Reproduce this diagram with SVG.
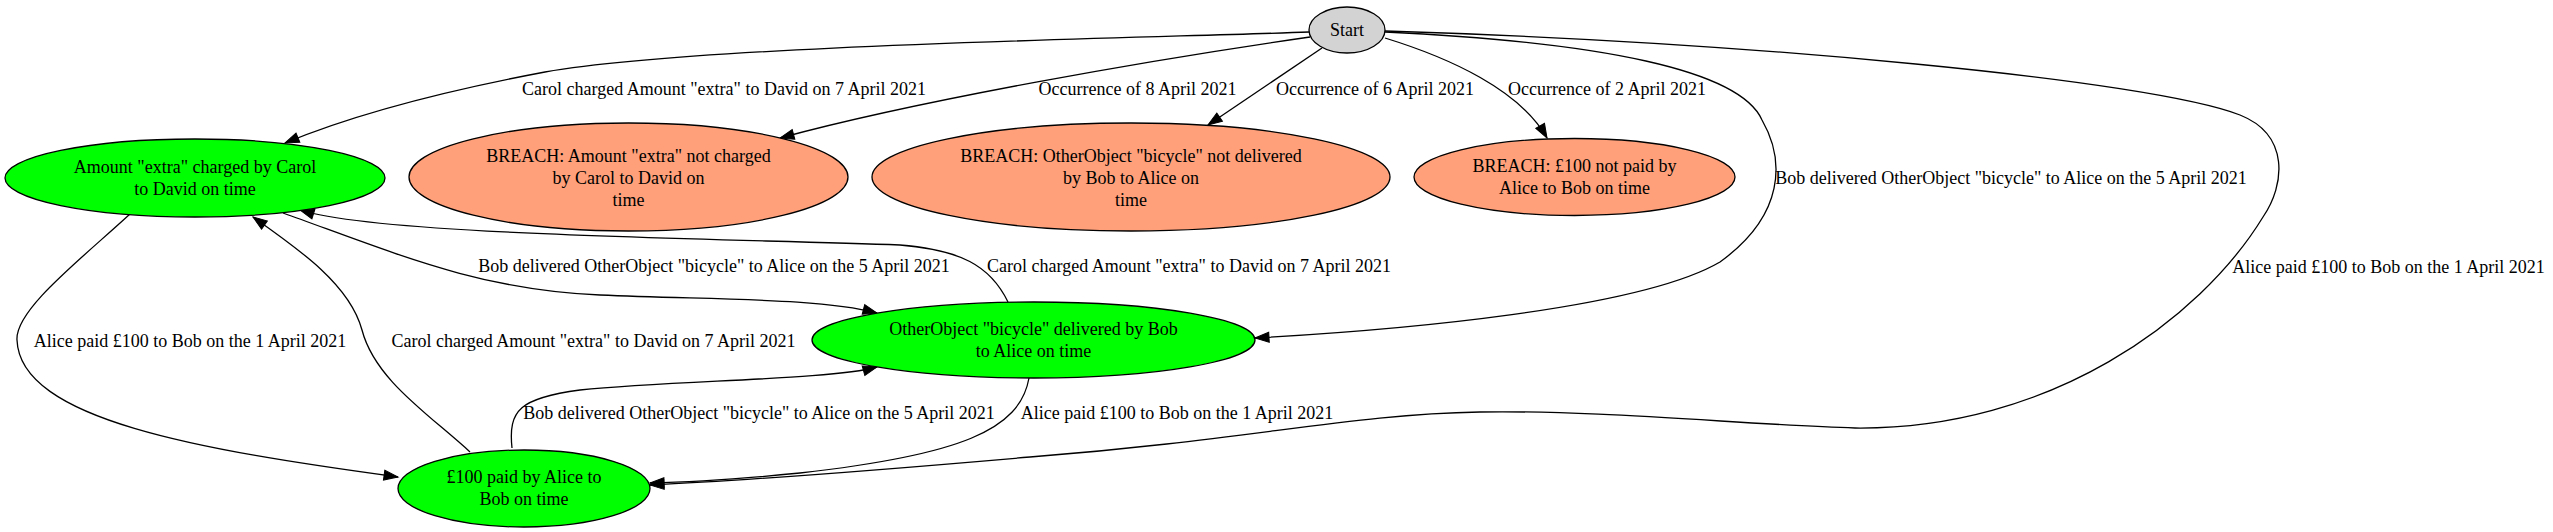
<svg xmlns="http://www.w3.org/2000/svg" width="2553" height="532" viewBox="0 0 2553 532">
<style>
text{font-family:"Liberation Serif","Times New Roman",serif;font-size:18px;fill:#000;text-anchor:middle}
.n{stroke:#000;stroke-width:1.3}
.g{fill:#00ff00}
.b{fill:#ffa07a}
.s{fill:#d3d3d3}
.e path{fill:none;stroke:#000;stroke-width:1.3;marker-end:url(#arr)}
</style>
<defs>
<marker id="arr" markerWidth="15" markerHeight="10" refX="14" refY="5" orient="auto" markerUnits="userSpaceOnUse" overflow="visible">
<path d="M0,0 L14,5 L0,10 z" fill="#000" stroke="#000" stroke-width="1"/>
</marker>
</defs>
<g id="connectors" class="e">
<path d="M1309,32 C1150,38 700,45 545,72 C460,88 360,112 285,143"/>
<path d="M1310,37 C1150,60 920,100 780,138"/>
<path d="M1322,48 L1208,125"/>
<path d="M1385,38 C1450,58 1520,90 1547,138"/>
<path d="M1385,32 C1600,42 1740,70 1762,120 C1785,160 1785,215 1720,262 C1640,309 1400,330 1255,338"/>
<path d="M1385,31 C1750,42 2150,80 2240,115 C2290,135 2285,185 2263,217 C2200,320 2050,430 1855,428 C1750,425 1600,410 1480,412 C1350,414 1250,440 1030,457 C880,470 760,480 650,485"/>
<path d="M130,214 C80,260 15,310 17,340 C20,420 200,450 398,477"/>
<path d="M470,452 C430,415 375,380 362,330 C350,285 300,250 253,217"/>
<path d="M283,213 C400,255 480,290 600,295 C720,300 820,298 877,313"/>
<path d="M1008,302 C990,265 960,250 900,245 C700,238 380,235 300,210"/>
<path d="M512,448 C508,410 520,398 580,390 C680,380 830,380 877,367"/>
<path d="M1029,378 C1020,430 960,455 800,473 C740,479 700,482 650,483"/>
<text x="724" y="95">Carol charged Amount "extra" to David on 7 April 2021</text>
<text x="1137.5" y="95">Occurrence of 8 April 2021</text>
<text x="1375" y="95">Occurrence of 6 April 2021</text>
<text x="1607" y="95">Occurrence of 2 April 2021</text>
<text x="2011" y="184">Bob delivered OtherObject "bicycle" to Alice on the 5 April 2021</text>
<text x="2388.5" y="273">Alice paid £100 to Bob on the 1 April 2021</text>
<text x="714" y="272">Bob delivered OtherObject "bicycle" to Alice on the 5 April 2021</text>
<text x="1189" y="272">Carol charged Amount "extra" to David on 7 April 2021</text>
<text x="190" y="347">Alice paid £100 to Bob on the 1 April 2021</text>
<text x="593.5" y="347">Carol charged Amount "extra" to David on 7 April 2021</text>
<text x="759" y="419">Bob delivered OtherObject "bicycle" to Alice on the 5 April 2021</text>
<text x="1177" y="419">Alice paid £100 to Bob on the 1 April 2021</text>
</g>
<g id="start">
<ellipse class="n s" cx="1347" cy="30" rx="38" ry="23"/>
<text x="1347" y="36">Start</text>
</g>
<g id="amount_charged">
<ellipse class="n g" cx="195" cy="178" rx="190" ry="39"/>
<text x="195" y="173">Amount "extra" charged by Carol</text>
<text x="195" y="195">to David on time</text>
</g>
<g id="breach_amount">
<ellipse class="n b" cx="628.5" cy="177" rx="219.5" ry="54"/>
<text x="628.5" y="162">BREACH: Amount "extra" not charged</text>
<text x="628.5" y="184">by Carol to David on</text>
<text x="628.5" y="206">time</text>
</g>
<g id="breach_bicycle">
<ellipse class="n b" cx="1131" cy="177" rx="259" ry="54"/>
<text x="1131" y="162">BREACH: OtherObject "bicycle" not delivered</text>
<text x="1131" y="184">by Bob to Alice on</text>
<text x="1131" y="206">time</text>
</g>
<g id="breach_payment">
<ellipse class="n b" cx="1574.5" cy="177" rx="160.5" ry="38.5"/>
<text x="1574.5" y="172">BREACH: £100 not paid by</text>
<text x="1574.5" y="194">Alice to Bob on time</text>
</g>
<g id="bicycle_delivered">
<ellipse class="n g" cx="1033.5" cy="340" rx="221.5" ry="38"/>
<text x="1033.5" y="335">OtherObject "bicycle" delivered by Bob</text>
<text x="1033.5" y="357">to Alice on time</text>
</g>
<g id="payment_made">
<ellipse class="n g" cx="524" cy="488.5" rx="126" ry="38.5"/>
<text x="524" y="483">£100 paid by Alice to</text>
<text x="524" y="505">Bob on time</text>
</g>
</svg>
